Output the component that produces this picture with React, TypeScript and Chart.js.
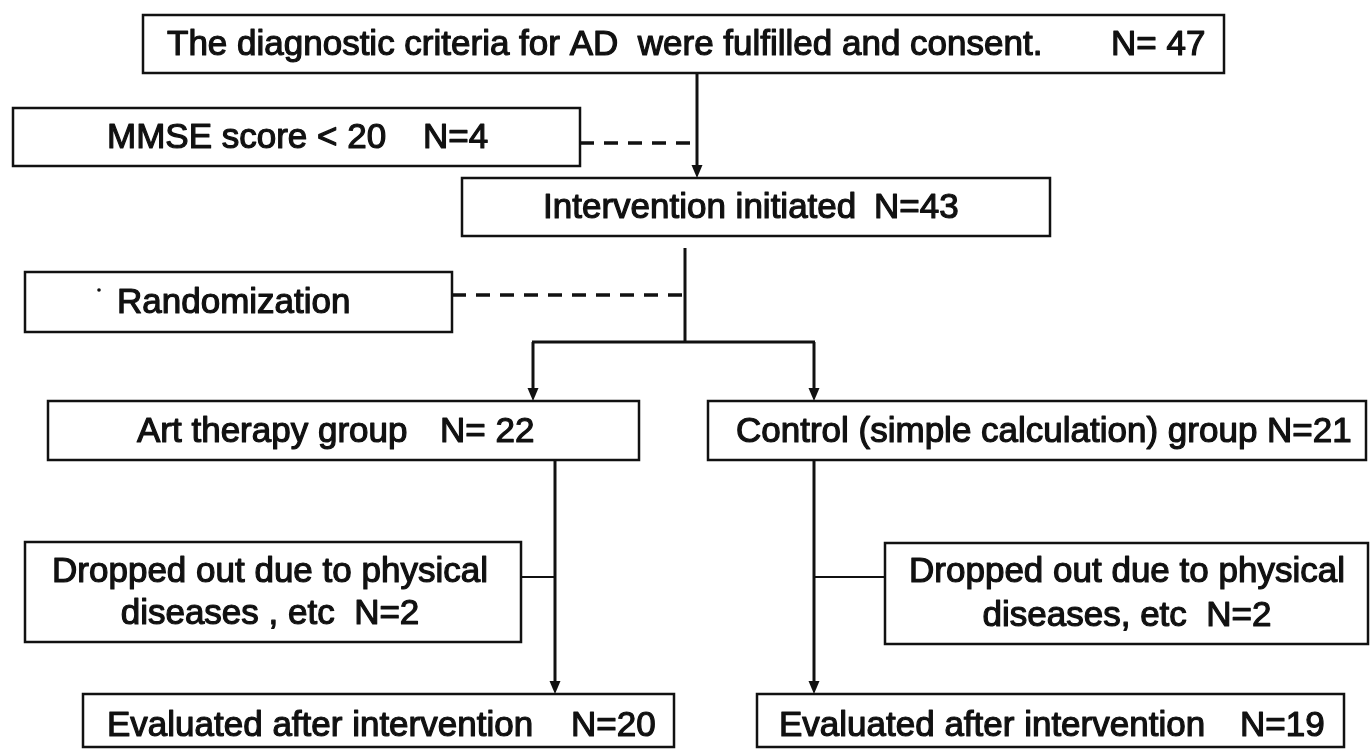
import React, { useEffect, useRef } from "react";
import { Chart, registerables } from "chart.js";

Chart.register(...registerables);

// ---- Flow-chart content (data) ----
const stageLabels = [
  "The diagnostic criteria for AD  were fulfilled and consent.",
  "MMSE score < 20",
  "Intervention initiated",
  "Randomization",
  "Art therapy group",
  "Control (simple calculation) group",
  "Dropped out due to physical",
  "Dropped out due to physical",
  "Evaluated after intervention",
  "Evaluated after intervention",
];
const secondLines = ["", "", "", "", "", "", "diseases , etc", "diseases, etc", "", ""];
const countLabels = ["N= 47", "N=4", "N=43", "", "N= 22", "N=21", "N=2", "N=2", "N=20", "N=19"];

// ---- Layout (in chart units: x 0..1372, y 0..749 top-down) ----
const boxRects = [
  [143, 15, 1224, 73],
  [13, 108, 580, 166],
  [462, 178, 1050, 236],
  [25, 272, 452, 332],
  [48, 401, 639, 460],
  [708, 401, 1366, 460],
  [25, 542, 521, 642],
  [885, 543, 1368, 644],
  [83, 694, 674, 747],
  [757, 694, 1344, 747],
];
// text: [mode, x, baseline, countX]; mode "L" left, "J" joined, "C" centered two lines
const textPlace: any[] = [
  ["L", 167, 55, 1111],
  ["L", 107, 148, 423],
  ["L", 543, 218, 874],
  ["L", 117, 313, null],
  ["L", 137, 442, 440],
  ["J", 736, 442, null],
  ["C", 270, 582, 624],
  ["C", 1127, 582, 626],
  ["L", 107, 736, 571],
  ["L", 779, 736, 1240],
];
// connectors: [x1, y1, x2, y2, kind]
const connectors: any[] = [
  [697, 73, 697, 178, "arrow"],
  [580, 143, 697, 143, "dash"],
  [685, 248, 685, 343, "solid"],
  [452, 295, 685, 295, "dash"],
  [532, 342, 815, 342, "solid"],
  [533, 342, 533, 401, "arrow"],
  [814, 342, 814, 401, "arrow"],
  [555, 460, 555, 694, "arrow"],
  [521, 577, 555, 577, "thin"],
  [814, 460, 814, 694, "arrow"],
  [814, 577, 885, 577, "thin"],
];

const FONT = '35px "Liberation Sans", Arial, sans-serif';
const INK = "#111111";

const flowPlugin = {
  id: "flowPlugin",
  afterDraw(chart: any) {
    const ctx = chart.ctx;
    const xs = chart.scales.x;
    const ys = chart.scales.y;
    const X = (v: number) => xs.getPixelForValue(v);
    const Y = (v: number) => ys.getPixelForValue(v);
    ctx.save();
    // boxes
    ctx.strokeStyle = INK;
    ctx.lineWidth = 2.5;
    boxRects.forEach((r) => {
      ctx.strokeRect(X(r[0]), Y(r[1]), X(r[2]) - X(r[0]), Y(r[3]) - Y(r[1]));
    });
    // connectors
    connectors.forEach((c) => {
      const [x1, y1, x2, y2, kind] = c;
      ctx.beginPath();
      ctx.setLineDash(kind === "dash" ? [14, 10] : []);
      ctx.lineWidth = kind === "thin" ? 2 : kind === "dash" ? 3.5 : 3;
      const endY = kind === "arrow" ? Y(y2) - 10 : Y(y2);
      ctx.moveTo(X(x1), Y(y1));
      ctx.lineTo(X(x2), endY);
      ctx.stroke();
      ctx.setLineDash([]);
      if (kind === "arrow") {
        ctx.beginPath();
        ctx.moveTo(X(x2), Y(y2));
        ctx.lineTo(X(x2) - 5.5, Y(y2) - 13);
        ctx.lineTo(X(x2) + 5.5, Y(y2) - 13);
        ctx.closePath();
        ctx.fillStyle = INK;
        ctx.fill();
      }
    });
    // text
    ctx.font = FONT;
    ctx.fillStyle = INK;
    ctx.strokeStyle = INK;
    ctx.lineWidth = 1.2;
    ctx.lineJoin = "round";
    ctx.textBaseline = "alphabetic";
    const put = (s: string, x: number, y: number, align: string) => {
      ctx.textAlign = align;
      ctx.fillText(s, X(x), Y(y));
      ctx.strokeText(s, X(x), Y(y));
    };
    textPlace.forEach((t, i) => {
      const [mode, x, by, cx] = t;
      if (mode === "L") {
        put(stageLabels[i], x, by, "left");
        if (cx !== null && countLabels[i]) put(countLabels[i], cx, by, "left");
      } else if (mode === "J") {
        put(stageLabels[i] + " " + countLabels[i], x, by, "left");
      } else {
        put(stageLabels[i], x, by, "center");
        put(secondLines[i] + "  " + countLabels[i], x, cx, "center");
      }
    });
    // stray dot before "Randomization"
    ctx.beginPath();
    ctx.arc(X(99), Y(290), 1.8, 0, Math.PI * 2);
    ctx.fill();
    ctx.restore();
  },
};

export default function App() {
  const ref = useRef<HTMLCanvasElement | null>(null);
  useEffect(() => {
    if (!ref.current) return;
    const centers = boxRects.map((r) => ({ x: (r[0] + r[2]) / 2, y: (r[1] + r[3]) / 2 }));
    const chart = new Chart(ref.current, {
      type: "scatter",
      data: {
        datasets: [
          {
            label: "stages",
            data: centers,
            pointRadius: 0,
            pointHoverRadius: 0,
          },
        ],
      },
      options: {
        animation: false,
        responsive: false,
        devicePixelRatio: 1,
        layout: { padding: 0 },
        plugins: { legend: { display: false }, tooltip: { enabled: false } },
        events: [],
        scales: {
          x: { type: "linear", min: 0, max: 1372, display: false },
          y: { type: "linear", min: 0, max: 749, reverse: true, display: false },
        },
      },
      plugins: [flowPlugin],
    } as any);
    return () => chart.destroy();
  }, []);
  return (
    <div style={{ position: "absolute", left: 0, top: 0, width: 1372, height: 749, background: "#fff" }}>
      <canvas ref={ref} width={1372} height={749} style={{ display: "block" }} />
    </div>
  );
}
